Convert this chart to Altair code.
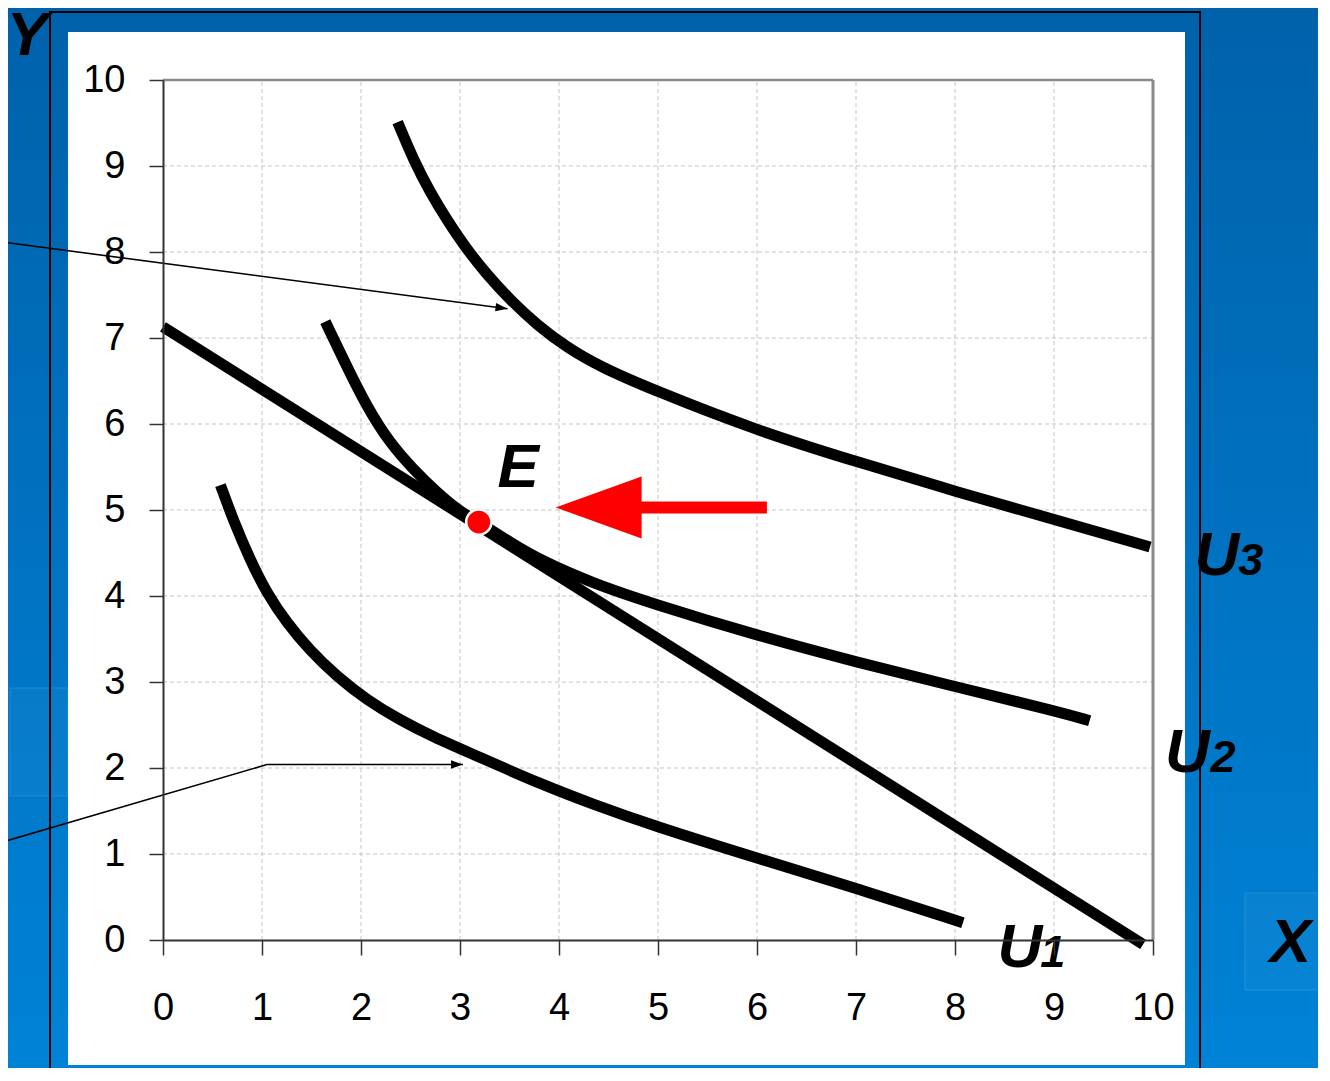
import altair as alt
import pandas as pd

# ---------------- data ----------------
budget_x = [0.0, 9.90]
budget_y = [7.13, -0.05]

u3_x = [2.37, 2.53, 2.70, 2.87, 3.05, 3.27, 3.51, 3.78, 4.08, 4.41, 4.92, 6.03, 7.01, 8.02, 9.03, 9.97]
u3_y = [9.51, 9.07, 8.69, 8.37, 8.06, 7.74, 7.44, 7.15, 6.89, 6.67, 6.41, 5.91, 5.56, 5.21, 4.88, 4.57]

u2_x = [1.64, 1.86, 2.06, 2.29, 2.53, 2.77, 3.00, 3.19, 3.51, 3.84, 4.34, 4.92, 6.03, 7.01, 8.02, 9.03, 9.36]
u2_y = [7.19, 6.66, 6.20, 5.78, 5.47, 5.20, 4.98, 4.86, 4.62, 4.40, 4.15, 3.92, 3.53, 3.23, 2.94, 2.66, 2.55]

u1_x = [0.58, 0.71, 0.88, 1.05, 1.25, 1.48, 1.76, 2.06, 2.39, 2.73, 3.13, 3.84, 4.34, 4.92, 6.03, 7.01, 8.08]
u1_y = [5.29, 4.88, 4.42, 4.03, 3.69, 3.37, 3.06, 2.79, 2.56, 2.36, 2.16, 1.80, 1.58, 1.34, 0.94, 0.60, 0.20]

e_x = [3.19]
e_y = [4.86]

tick_vals = list(range(0, 11))
grid_vals = list(range(1, 10))

# red arrow pointing at E
red_shaft_x = [4.80]
red_shaft_x2 = [6.10]
red_shaft_y = [5.03]
red_head_x = [4.40]
red_head_y = [5.03]

# thin pointer lines (callouts coming from outside the panel)
ptr_a_x = [-1.65, 3.48]
ptr_a_y = [8.12, 7.34]
ptr_b_x = [-1.65, 1.05, 3.03]
ptr_b_y = [1.13, 2.04, 2.04]

# labels
letter_text = ["E", "U", "U", "U", "X", "Y"]
letter_x = [3.38, 10.42, 10.12, 8.43, 11.18, -1.58]
letter_y = [5.27, 4.24, 1.95, -0.31, -0.26, 10.29]
digit_text = ["3", "2", "1"]
digit_x = [10.86, 10.58, 8.86]
digit_y = [4.24, 1.95, -0.31]

# ---------------- frames ----------------
def rows(xs, ys, name):
    return pd.DataFrame({"x": xs, "y": ys, "s": name, "i": list(range(len(xs)))})

curves = pd.concat([
    rows(u3_x, u3_y, "U3"),
    rows(u2_x, u2_y, "U2"),
    rows(u1_x, u1_y, "U1"),
])
budget = rows(budget_x, budget_y, "budget")
pointers = pd.concat([rows(ptr_a_x, ptr_a_y, "a"), rows(ptr_b_x, ptr_b_y, "b")])
one = pd.DataFrame({"k": [0]})

FONT = "Liberation Sans"
XS = alt.Scale(domain=[0, 10], nice=False, zero=False)
YS = alt.Scale(domain=[0, 10], nice=False, zero=False)
XAX = alt.Axis(values=tick_vals, format="d", title=None, grid=False, tickSize=15, tickWidth=1.5,
               tickColor="#333333", domainColor="#333333", domainWidth=2,
               labelFont=FONT, labelFontSize=38, labelColor="black", labelPadding=34,
               labelFlush=False, labelOverlap=False, labelBound=False, zindex=1)
YAX = alt.Axis(values=tick_vals, format="d", title=None, grid=False, tickSize=14, tickWidth=1.5,
               tickColor="#333333", domainColor="#333333", domainWidth=2,
               labelFont=FONT, labelFontSize=38, labelColor="black", labelPadding=24,
               labelFlush=False, labelOverlap=False, labelBound=False, zindex=1)


def X(f):
    return alt.X(f, type="quantitative", scale=XS, axis=XAX)


def Y(f):
    return alt.Y(f, type="quantitative", scale=YS, axis=YAX)


# background gradient (whole canvas)
bg = alt.Chart(one).mark_rect(
    fill=alt.LinearGradient(gradient="linear", x1=0, x2=0, y1=0, y2=1,
                            stops=[alt.GradientStop(color="#0061aa", offset=0),
                                   alt.GradientStop(color="#0083d7", offset=1)])
).encode(x=alt.value(-160), x2=alt.value(1170), y=alt.value(-80), y2=alt.value(1000))

decor = alt.Chart(pd.DataFrame({"a": [1082, -153], "b": [1170, -95], "c": [813, 608], "d": [910, 716]})).mark_rect(
    fill="#ffffff", fillOpacity=0.03, stroke="#4aa0e8", strokeOpacity=0.3, strokeWidth=1.5
).encode(x=alt.X("a:Q", scale=None), x2="b:Q", y=alt.Y("c:Q", scale=None), y2="d:Q")

frame = alt.Chart(one).mark_rect(fillOpacity=0, stroke="black", strokeWidth=2).encode(
    x=alt.value(-113), x2=alt.value(1037), y=alt.value(-68), y2=alt.value(1010))

panel = alt.Chart(one).mark_rect(fill="white").encode(
    x=alt.value(-95), x2=alt.value(1022), y=alt.value(-48), y2=alt.value(985))

grid_df = pd.DataFrame({"g": grid_vals})
vgrid = alt.Chart(grid_df).mark_rule(color="#c4c4c4", strokeWidth=1, strokeDash=[4, 3]).encode(
    x=X("g"), y=alt.datum(0, scale=YS), y2=alt.datum(10))
hgrid = alt.Chart(grid_df).mark_rule(color="#c4c4c4", strokeWidth=1, strokeDash=[4, 3]).encode(
    y=Y("g"), x=alt.datum(0, scale=XS), x2=alt.datum(10))

border_df = pd.DataFrame({"b": [10]})
right_border = alt.Chart(border_df).mark_rule(color="#8a8a8a", strokeWidth=3).encode(
    x=X("b"), y=alt.datum(0, scale=YS), y2=alt.datum(10))
top_border = alt.Chart(border_df).mark_rule(color="#8a8a8a", strokeWidth=2.5).encode(
    y=Y("b"), x=alt.datum(0, scale=XS), x2=alt.datum(10))

budget_line = alt.Chart(budget).mark_line(color="black", strokeWidth=11, strokeCap="butt").encode(
    x=X("x"), y=Y("y"), order="i:Q")

lines = alt.Chart(curves).mark_line(color="black", strokeWidth=11, interpolate="basis",
                                    strokeCap="butt").encode(
    x=X("x"), y=Y("y"), detail="s:N", order="i:Q")

ptr_lines = alt.Chart(pointers).mark_line(color="black", strokeWidth=1.6).encode(
    x=X("x"), y=Y("y"), detail="s:N", order="i:Q")

ptr_heads = alt.Chart(pd.DataFrame({"x": [ptr_a_x[-1], ptr_b_x[-1]], "y": [ptr_a_y[-1], ptr_b_y[-1]],
                                    "ang": [7.5, 0.0]})).mark_point(
    shape="M0,0L-2,-0.7L-2,0.7Z", filled=True, color="black", size=144, opacity=1).encode(
    x=X("x"), y=Y("y"), angle=alt.Angle("ang:Q", scale=None))

red_shaft = alt.Chart(pd.DataFrame({"x": red_shaft_x, "x2": red_shaft_x2, "y": red_shaft_y})).mark_rule(
    color="#ff0000", strokeWidth=12).encode(x=X("x"), x2="x2:Q", y=Y("y"))

red_head = alt.Chart(pd.DataFrame({"x": red_head_x, "y": red_head_y})).mark_point(
    shape="M-1,0L1,-0.72L1,0.72Z", filled=True, color="#ff0000", size=7396, opacity=1).encode(
    x=X("x"), y=Y("y"))

e_dot = alt.Chart(pd.DataFrame({"x": e_x, "y": e_y})).mark_circle(
    color="#ff0000", stroke="white", strokeWidth=2.5, size=640, opacity=1).encode(
    x=X("x"), y=Y("y"))

letters = alt.Chart(pd.DataFrame({"x": letter_x, "y": letter_y, "t": letter_text})).mark_text(
    font=FONT, fontWeight="bold", fontStyle="italic", fontSize=62, align="left",
    baseline="alphabetic", color="black").encode(x=X("x"), y=Y("y"), text="t:N")

digits = alt.Chart(pd.DataFrame({"x": digit_x, "y": digit_y, "t": digit_text})).mark_text(
    font=FONT, fontWeight="bold", fontStyle="italic", fontSize=45, align="left",
    baseline="alphabetic", color="black").encode(x=X("x"), y=Y("y"), text="t:N")

chart = alt.layer(
    bg, decor, frame, panel, vgrid, hgrid, right_border, top_border,
    budget_line, lines, ptr_lines, ptr_heads, red_shaft, red_head, e_dot, letters, digits
).properties(
    width=990, height=860,
    autosize=alt.AutoSizeParams(type="none"),
    padding={"left": 155, "top": 72, "right": 165, "bottom": 128},
    background="#0068b0",
).configure_view(stroke=None)

chart.save("out.html", embed_options={"renderer": "svg", "actions": False})
